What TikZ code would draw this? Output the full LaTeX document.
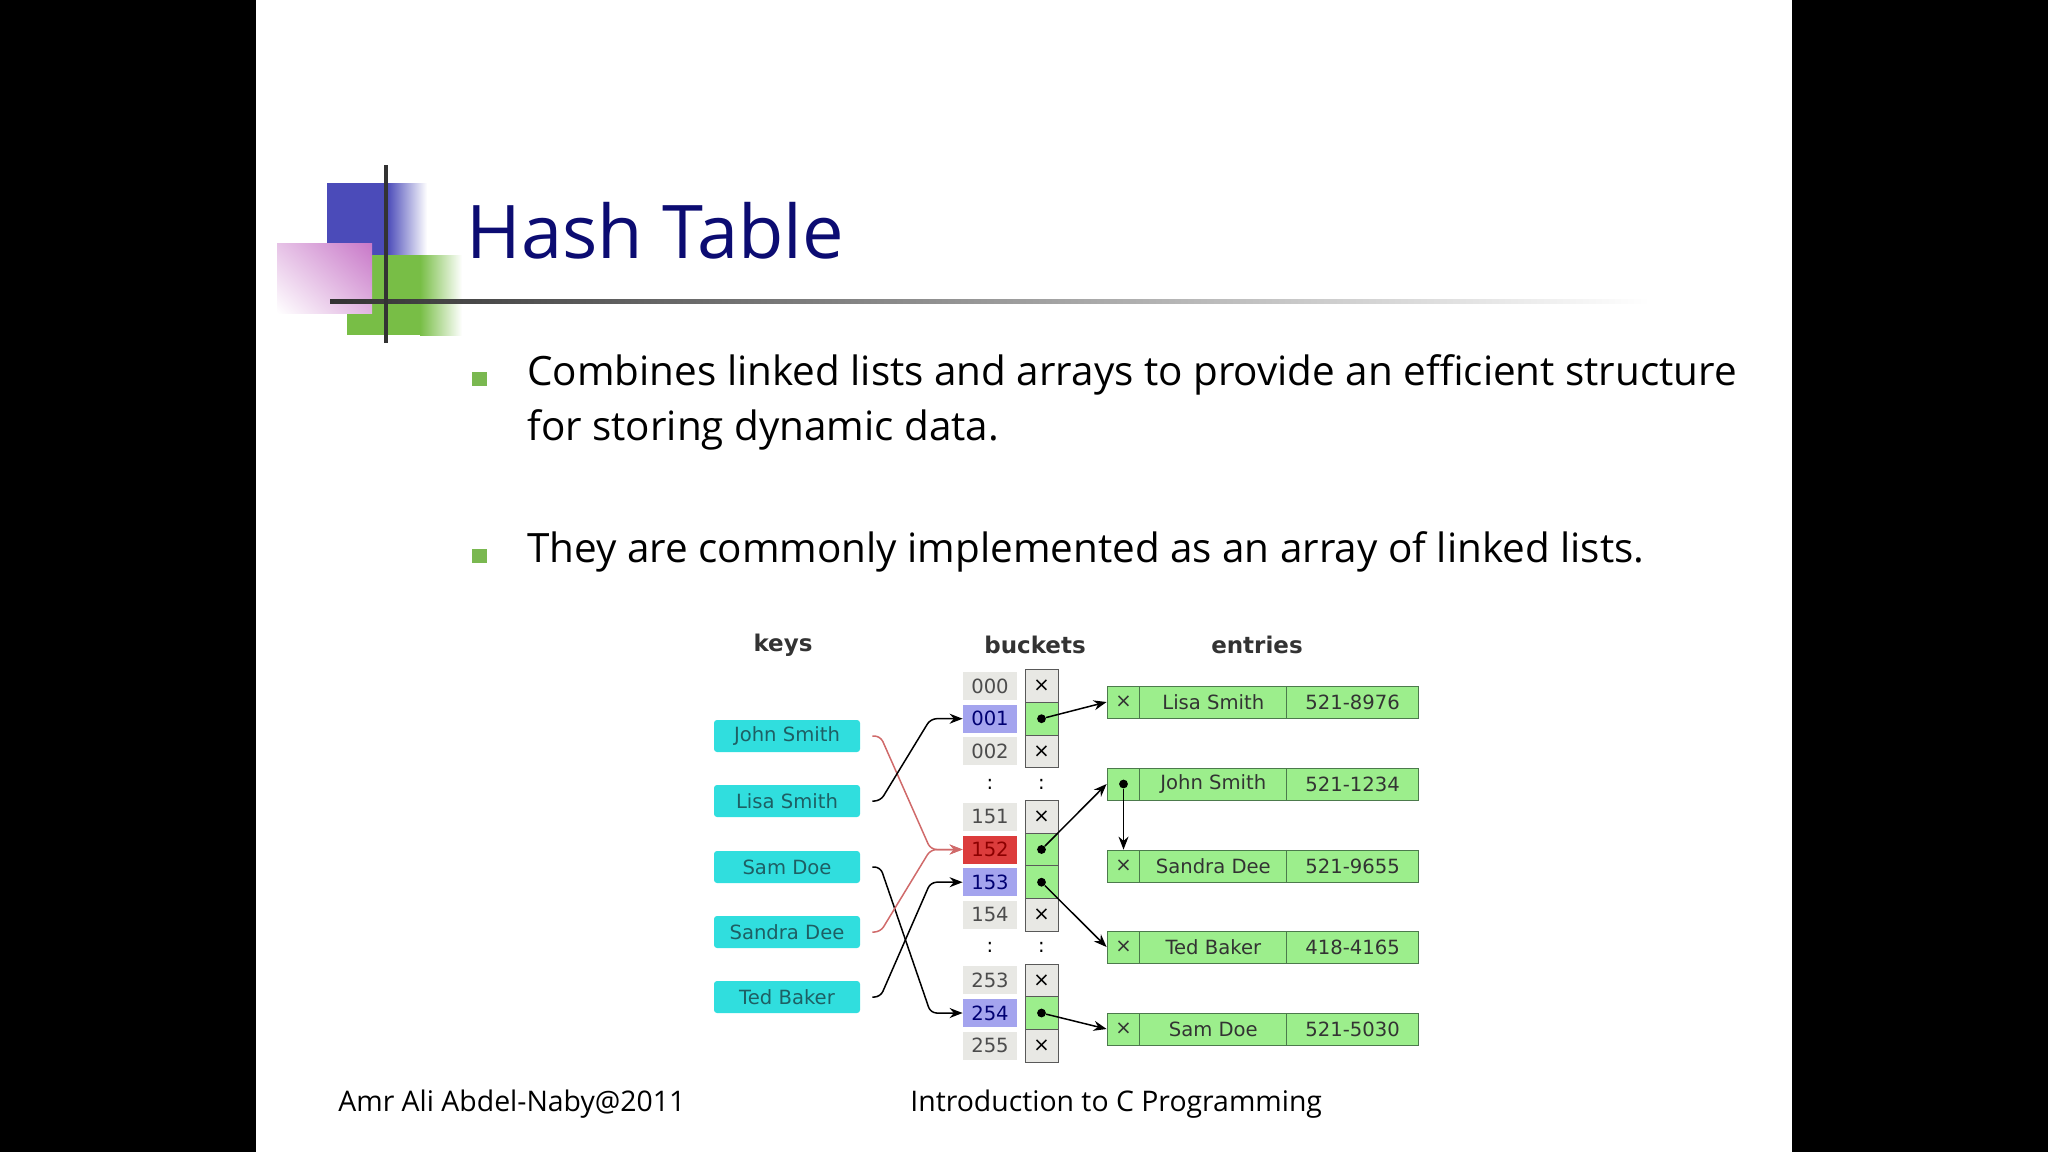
\documentclass[tikz,border=0pt]{standalone}
\usepackage{fontspec}
\setmainfont{Open Sans}
\newfontfamily\diagfont{DejaVu Sans}
\usepackage{tikz}
\usetikzlibrary{arrows.meta,positioning,shadings}
\definecolor{titleNavy}{HTML}{0C0C72}
\definecolor{logoBlue}{HTML}{4B4BB9}
\definecolor{logoGreen}{HTML}{78BE46}
\definecolor{logoPink}{HTML}{C878C8}
\definecolor{bulletGreen}{HTML}{7AB850}
\definecolor{keyCyan}{HTML}{30DEDE}
\definecolor{keyText}{HTML}{1E5F64}
\definecolor{slotGray}{HTML}{E8E8E4}
\definecolor{slotBlue}{HTML}{A4A4EE}
\definecolor{slotRed}{HTML}{DC3C3C}
\definecolor{cellGreen}{HTML}{9CEE8C}
\definecolor{cellEdge}{HTML}{4C7A4C}
\definecolor{redLink}{HTML}{D06A6A}

\begin{document}
\begin{tikzpicture}[
    x=0.5pt, y=-0.5pt,
    font=\diagfont\fontsize{9.8}{11}\selectfont,
    slidetext/.style={font=\rmfamily\fontsize{20.2}{24}\selectfont, anchor=base west, inner sep=0pt},
    footer/.style={font=\rmfamily\fontsize{14.2}{17}\selectfont, anchor=base west, inner sep=0pt},
    keybox/.style={fill=keyCyan, text=keyText, rounded corners=1.5pt, minimum width=73pt, minimum height=16pt, inner sep=0pt},
    slot/.style={fill=slotGray, text=black!70, minimum width=27pt, minimum height=14pt, inner sep=0pt},
    cell/.style={draw=black!65, fill=slotGray, minimum width=16.5pt, minimum height=16.35pt, inner sep=0pt},
    full/.style={cell, fill=cellGreen},
    entry/.style={draw=cellEdge, fill=cellGreen, text=black!80, minimum height=16pt, inner sep=0pt},
    head/.style={font=\diagfont\bfseries\fontsize{11.5}{13}\selectfont, text=black!80},
    ptr/.style={circle, fill=black, inner sep=0pt, minimum size=4.4pt},
    arrow/.style={-{Stealth[length=6.5pt,width=5pt]}, line width=0.75pt},
    link/.style={arrow, rounded corners=3pt}
]
    \useasboundingbox (0,0) rectangle (2048,1152);
    \fill[black] (0,0) rectangle (256,1152);
    \fill[black] (1792,0) rectangle (2048,1152);

    % logo and title rule
    \fill[logoBlue] (327,183) rectangle (387,255);
    \shade[left color=logoBlue, right color=white] (387,183) rectangle (427,255);
    \fill[logoGreen] (347,255) rectangle (420,335);
    \shade[left color=logoGreen, right color=white] (420,255) rectangle (462,335);
    \shade[upper left=logoPink!45!white, upper right=logoPink, lower left=white, lower right=logoPink!55!white] (277,243) rectangle (372,313);
    \shade[left color=black!80, middle color=black!55, right color=white] (330,299) rectangle (1650,303);
    \draw[line width=2pt, black!80] (386,165) -- (386,343);

    \node[anchor=base west, inner sep=0pt, text=titleNavy, font=\rmfamily\fontsize{37}{44}\selectfont] (title) at (466,258) {Hash Table};

    \fill[bulletGreen] (472,372) rectangle (487,386);
    \node[slidetext] (pointA) at (527,385) {Combines linked lists and arrays to provide an efficient structure};
    \node[slidetext] (pointB) at (527,440) {for storing dynamic data.};
    \fill[bulletGreen] (472,549) rectangle (487,563);
    \node[slidetext] (pointC) at (527,562) {They are commonly implemented as an array of linked lists.};

    % diagram
    \node[head] (keysH) at (783,645) {keys};
    \node[head] (bucketsH) at (1035,645) {buckets};
    \node[head] (entriesH) at (1257,645) {entries};

    \node[keybox] (john) at (787,736) {John Smith};
    \node[keybox] (lisa) at (787,801) {Lisa Smith};
    \node[keybox] (sam) at (787,867) {Sam Doe};
    \node[keybox] (sandra) at (787,932) {Sandra Dee};
    \node[keybox] (ted) at (787,997) {Ted Baker};

    \node[slot] (b000) at (990,686) {000};
    \node[slot, fill=slotBlue, text=blue!45!black] (b001) at (990,718.7) {001};
    \node[slot] (b002) at (990,751.4) {002};
    \node (bdotsA) at (990,784.1) {:};
    \node[slot] (b151) at (990,816.8) {151};
    \node[slot, fill=slotRed, text=red!55!black] (b152) at (990,849.5) {152};
    \node[slot, fill=slotBlue, text=blue!45!black] (b153) at (990,882.2) {153};
    \node[slot] (b154) at (990,914.9) {154};
    \node (bdotsB) at (990,947.6) {:};
    \node[slot] (b253) at (990,980.3) {253};
    \node[slot, fill=slotBlue, text=blue!45!black] (b254) at (990,1013) {254};
    \node[slot] (b255) at (990,1045.7) {255};

    \node[cell] (c000) at (1041.5,686) {×};
    \node[full] (c001) at (1041.5,718.7) {};
    \node[cell] (c002) at (1041.5,751.4) {×};
    \node (cdotsA) at (1041.5,784.1) {:};
    \node[cell] (c151) at (1041.5,816.8) {×};
    \node[full] (c152) at (1041.5,849.5) {};
    \node[full] (c153) at (1041.5,882.2) {};
    \node[cell] (c154) at (1041.5,914.9) {×};
    \node (cdotsB) at (1041.5,947.6) {:};
    \node[cell] (c253) at (1041.5,980.3) {×};
    \node[full] (c254) at (1041.5,1013) {};
    \node[cell] (c255) at (1041.5,1045.7) {×};

    \node[entry, minimum width=16.5pt] (lisaP) at (1123.5,702) {×};
    \node[entry, minimum width=73.5pt, right=-0.5pt of lisaP] (lisaN) {Lisa Smith};
    \node[entry, minimum width=66pt, right=-0.5pt of lisaN] (lisaT) {521-8976};
    \node[entry, minimum width=16.5pt] (johnP) at (1123.5,784) {};
    \node[entry, minimum width=73.5pt, right=-0.5pt of johnP] (johnN) {John Smith};
    \node[entry, minimum width=66pt, right=-0.5pt of johnN] (johnT) {521-1234};
    \node[entry, minimum width=16.5pt] (sandraP) at (1123.5,866) {×};
    \node[entry, minimum width=73.5pt, right=-0.5pt of sandraP] (sandraN) {Sandra Dee};
    \node[entry, minimum width=66pt, right=-0.5pt of sandraN] (sandraT) {521-9655};
    \node[entry, minimum width=16.5pt] (tedP) at (1123.5,947) {×};
    \node[entry, minimum width=73.5pt, right=-0.5pt of tedP] (tedN) {Ted Baker};
    \node[entry, minimum width=66pt, right=-0.5pt of tedN] (tedT) {418-4165};
    \node[entry, minimum width=16.5pt] (samP) at (1123.5,1029) {×};
    \node[entry, minimum width=73.5pt, right=-0.5pt of samP] (samN) {Sam Doe};
    \node[entry, minimum width=66pt, right=-0.5pt of samN] (samT) {521-5030};

    \draw[link, redLink] ([xshift=6pt]john.east) -- ++(8,0) -- ([xshift=-16pt]b152.west) -- (b152.west);
    \draw[link] ([xshift=6pt]lisa.east) -- ++(8,0) -- ([xshift=-16pt]b001.west) -- (b001.west);
    \draw[link] ([xshift=6pt]sam.east) -- ++(8,0) -- ([xshift=-16pt]b254.west) -- (b254.west);
    \draw[link, redLink] ([xshift=6pt]sandra.east) -- ++(8,0) -- ([xshift=-16pt]b152.west) -- (b152.west);
    \draw[link] ([xshift=6pt]ted.east) -- ++(8,0) -- ([xshift=-16pt]b153.west) -- (b153.west);

    \node[ptr] (p001) at (c001) {};
    \node[ptr] (p152) at (c152) {};
    \node[ptr] (p153) at (c153) {};
    \node[ptr] (p254) at (c254) {};
    \node[ptr] (pjohn) at (johnP) {};
    \draw[arrow] (p001) -- (lisaP.west);
    \draw[arrow] (p152) -- (johnP.west);
    \draw[arrow] (p153) -- (tedP.west);
    \draw[arrow] (p254) -- (samP.west);
    \draw[arrow] (pjohn) -- (sandraP.north);

    \node[footer] (author) at (338,1111) {Amr Ali Abdel-Naby@2011};
    \node[footer] (course) at (910,1111) {Introduction to C Programming};
\end{tikzpicture}
\end{document}
